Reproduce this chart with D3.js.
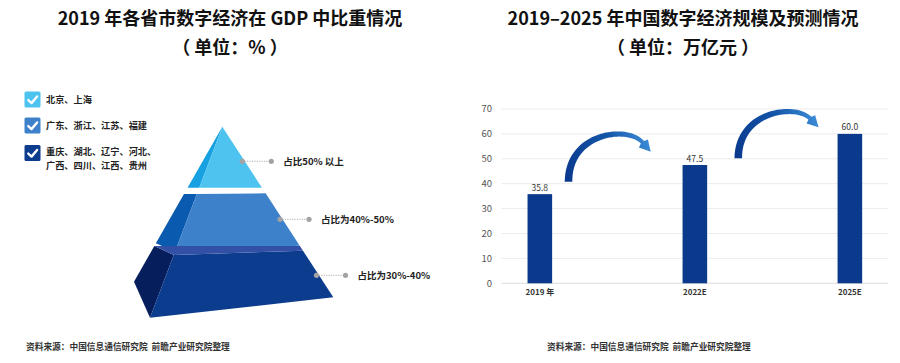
<!DOCTYPE html>
<html>
<head>
<meta charset="utf-8">
<script src="https://cdn.jsdelivr.net/npm/d3@7"></script>
<style>
  body { margin: 0; background: #fff; }
  text { font-family: "Noto Sans CJK SC", "Noto Sans", sans-serif; }
</style>
</head>
<body>
<svg id="chart" width="900" height="363"></svg>
<script>
// ---- data ----
let legendLabels = [['北京、上海'], ['广东、浙江、江苏、福建'], ['重庆、湖北、辽宁、河北、', '广西、四川、江西、贵州']];
let tierLabels = ['占比50% 以上', '占比为40%-50%', '占比为30%-40%'];
let tierColors = ['#4ec3f0', '#3e81cb', '#0c3c8d'];
let tierSideColors = ['#17a1e2', '#0a5bb0', '#061f5c'];

let years = ['2019 年', '2022E', '2025E'];
let scaleValues = [35.8, 47.5, 60.0];
let yTicks = [0, 10, 20, 30, 40, 50, 60, 70];

let svg = d3.select('#chart');

// ---- titles ----
function title(x, lines) {
  svg.append('text').attr('x', x).attr('y', 25).attr('text-anchor', 'middle')
    .attr('font-size', 18).attr('font-weight', 'bold').attr('fill', '#111').text(lines[0]);
  svg.append('text').attr('x', x).attr('y', 54).attr('text-anchor', 'middle')
    .attr('font-size', 18).attr('font-weight', 'bold').attr('fill', '#111').text(lines[1]);
}
title(230, ['2019 年各省市数字经济在 GDP 中比重情况', '（ 单位：% ）']);
title(683, ['2019–2025 年中国数字经济规模及预测情况', '（ 单位：万亿元 ）']);

// ---- legend ----
let legendY = [91.5, 117.5, 145];
let legend = svg.append('g');
legendLabels.forEach(function(lines, i) {
  let g = legend.append('g').attr('transform', 'translate(24.5,' + legendY[i] + ')');
  g.append('rect').attr('width', 16).attr('height', 16).attr('rx', 1.5).attr('fill', tierColors[i]);
  g.append('path').attr('d', 'M3.8,8.6 L7,11.6 L12.6,5')
    .attr('fill', 'none').attr('stroke', '#fff').attr('stroke-width', 2.4)
    .attr('stroke-linecap', 'round').attr('stroke-linejoin', 'round');
  lines.forEach(function(l, j) {
    g.append('text').attr('x', 21.5).attr('y', (lines.length > 1 ? 10.3 : 11) + j * 13.4)
      .attr('font-size', 9.2).attr('font-weight', 'bold').attr('fill', '#222').text(l);
  });
});

// ---- pyramid ----
let apex = [222.3, 126.7];
let corners = { fl: [150, 317.7], fr: [333.3, 297.3], bl: [134, 281.7] };
let edge = {};
Object.keys(corners).forEach(function(k) {
  let s = d3.scaleLinear().domain([apex[1], corners[k][1]]).range([apex[0], corners[k][0]]);
  edge[k] = function(y) { return [s(y), y]; };
});
// cut heights of each tier on each edge
let cuts = [
  { top: null, bot: { fl: 187.7, fr: 187.7, bl: 187.7 }, label: 161.3 },
  { top: { fl: 194, fr: 193.3, bl: 194 }, bot: { fl: 251.7, fr: 245.7, bl: 243.3 }, label: 219.3 },
  { top: { fl: 255, fr: 250.7, bl: 246, back: 246 }, bot: { fl: 317.7, fr: 297.3, bl: 281.7 }, label: 275.3 }
];
let pyr = svg.append('g');
let line = d3.line();
cuts.forEach(function(c, i) {
  let topFl = c.top ? edge.fl(c.top.fl) : apex;
  let topFr = c.top ? edge.fr(c.top.fr) : apex;
  let topBl = c.top ? edge.bl(c.top.bl) : apex;
  let botFl = edge.fl(c.bot.fl), botFr = edge.fr(c.bot.fr), botBl = edge.bl(c.bot.bl);
  pyr.append('path').attr('d', line([topBl, topFl, botFl, botBl]) + 'Z').attr('fill', tierSideColors[i]);
  pyr.append('path').attr('d', line([topFl, topFr, botFr, botFl]) + 'Z').attr('fill', tierColors[i]);
  if (c.top && c.top.back) {
    pyr.append('path').attr('d', line([topBl, edge.fr(c.top.back), topFr, topFl]) + 'Z').attr('fill', '#3250a6');
  }
  // label with dotted leader
  let ly = c.label;
  let dx = edge.fr(ly)[0] - 2.5;
  pyr.append('line').attr('x1', dx).attr('x2', dx + 29).attr('y1', ly).attr('y2', ly)
    .attr('stroke', '#9a9a9a').attr('stroke-width', 0.8).attr('stroke-dasharray', '1.2,1.2');
  pyr.append('circle').attr('cx', dx).attr('cy', ly).attr('r', 2.6).attr('fill', '#a3a3a3');
  pyr.append('circle').attr('cx', dx + 29).attr('cy', ly).attr('r', 2.6).attr('fill', '#a3a3a3');
  pyr.append('text').attr('x', dx + 41).attr('y', ly + 3.3).attr('font-size', 9.5)
    .attr('font-weight', 'bold').attr('fill', '#222').text(tierLabels[i]);
});

// ---- bar chart ----
let x = d3.scalePoint().domain(years).range([501.7, 888]).padding(0.246);
let y = d3.scaleLinear().domain([0, 70]).range([283.3, 109]);
let barW = 24.6;

let grid = svg.append('g');
grid.selectAll('line').data(yTicks).join('line')
  .attr('x1', 501.7).attr('x2', 888)
  .attr('y1', function(d) { return y(d); }).attr('y2', function(d) { return y(d); })
  .attr('stroke', function(d) { return d === 0 ? '#dcdcdc' : '#ececec'; }).attr('stroke-width', 1);
grid.selectAll('text').data(yTicks).join('text')
  .attr('x', 492).attr('y', function(d) { return y(d) + 3.3; })
  .attr('text-anchor', 'end').attr('font-size', 9.5).attr('fill', '#555').text(function(d) { return d; });

let bars = svg.append('g');
bars.selectAll('rect').data(scaleValues).join('rect')
  .attr('x', function(d, i) { return x(years[i]) - barW / 2; })
  .attr('y', function(d) { return y(d); })
  .attr('width', barW)
  .attr('height', function(d) { return y(0) - y(d); })
  .attr('fill', '#0b3a8c');
bars.selectAll('text.val').data(scaleValues).join('text').attr('class', 'val')
  .attr('x', function(d, i) { return x(years[i]); })
  .attr('y', function(d) { return y(d) - 3.5; })
  .attr('text-anchor', 'middle').attr('font-size', 8.5).attr('fill', '#333')
  .text(function(d) { return d.toFixed(1); });
bars.selectAll('text.cat').data(years).join('text').attr('class', 'cat')
  .attr('x', function(d) { return x(d); }).attr('y', 294.5)
  .attr('text-anchor', 'middle').attr('font-size', 8).attr('font-weight', 'bold').attr('fill', '#333')
  .text(function(d) { return d; });

// ---- curved arrows between bars ----
let step = x.step();
let xi = function(f) { return x(years[0]) + f * step; };
let arrows = [
  { from: 0.185, to: 0.72, v0: 40.8, v1: 52.9, peak: 58.7 },
  { from: 1.28, to: 1.8, v0: 50.2, v1: 62.6, peak: 67.4 }
];
let defs = svg.append('defs');
arrows.forEach(function(a, k) {
  let T = [xi(a.from), y(a.v0)];
  let H = [xi(a.to), y(a.v1)];
  let w = H[0] - T[0];
  let N = [H[0] - 8, H[1] - 8];
  let py = y(a.peak);
  let P = [T, [T[0], py - 6], [T[0] + 0.75 * w, py - 12], N];
  let bez = function(t) {
    let u = 1 - t;
    return [0, 1].map(function(j) {
      return u*u*u*P[0][j] + 3*u*u*t*P[1][j] + 3*u*t*t*P[2][j] + t*t*t*P[3][j];
    });
  };
  let n = 40, outer = [], inner = [];
  for (let s = 0; s <= n; s++) {
    let t = s / n;
    let p = bez(t), q = bez(Math.min(1, t + 0.01)), r = bez(Math.max(0, t - 0.01));
    let dx = q[0] - r[0], dy = q[1] - r[1], len = Math.hypot(dx, dy);
    let hw = 3.8 - 1.8 * t;
    outer.push([p[0] + dy / len * hw, p[1] - dx / len * hw]);
    inner.push([p[0] - dy / len * hw, p[1] + dx / len * hw]);
  }
  let end = bez(1), pre = bez(0.95);
  let dx = end[0] - pre[0], dy = end[1] - pre[1], len = Math.hypot(dx, dy);
  let ux = dx / len, uy = dy / len;
  let hw = 6;
  let head = [
    [end[0] + uy * hw, end[1] - ux * hw],
    [end[0] + ux * 11, end[1] + uy * 11],
    [end[0] - uy * hw, end[1] + ux * hw]
  ];
  let gid = 'arrowGrad' + k;
  let grad = defs.append('linearGradient').attr('id', gid).attr('gradientUnits', 'userSpaceOnUse')
    .attr('x1', T[0]).attr('y1', T[1]).attr('x2', H[0]).attr('y2', H[1]);
  grad.append('stop').attr('offset', 0).attr('stop-color', '#0a3a8e');
  grad.append('stop').attr('offset', 0.6).attr('stop-color', '#1456a8');
  grad.append('stop').attr('offset', 1).attr('stop-color', '#3a8ad6');
  let pts = outer.slice(0, n).concat([head[0], head[1], head[2]]).concat(inner.slice(0, n).reverse());
  svg.append('path').attr('d', line(pts) + 'Z').attr('fill', 'url(#' + gid + ')');
});

// ---- sources ----
let src = '资料来源：中国信息通信研究院  前瞻产业研究院整理';
svg.append('text').attr('x', 26).attr('y', 350).attr('font-size', 8.7).attr('font-weight', 'bold')
  .attr('fill', '#333').style('white-space', 'pre').text(src);
svg.append('text').attr('x', 547).attr('y', 350).attr('font-size', 8.7).attr('font-weight', 'bold')
  .attr('fill', '#333').style('white-space', 'pre').text(src);
</script>
</body>
</html>
